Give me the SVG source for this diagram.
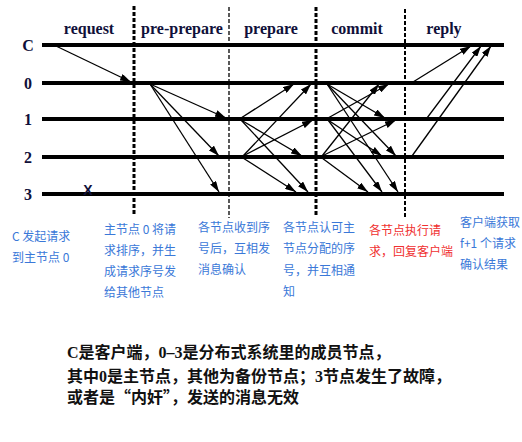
<svg xmlns="http://www.w3.org/2000/svg" width="522" height="442" viewBox="0 0 522 442">
<style>
.life{stroke:#000;stroke-width:4}
.lbl{font-family:"Liberation Serif","Noto Sans CJK SC",serif;font-weight:bold;font-size:16px;fill:#10103a;text-anchor:middle}
.phase{font-family:"Liberation Serif","Noto Sans CJK SC",serif;font-weight:bold;font-size:16px;fill:#10103a;text-anchor:middle}
.sep{stroke:#000;stroke-dasharray:4 2;fill:none}
.msg{stroke:#000;stroke-width:1.3;fill:none;marker-end:url(#ah)}
.note{font-family:"Noto Sans CJK SC","Noto Sans",sans-serif;font-size:12px;fill:#3a78d8}
.red{fill:#f03030}
.para{font-family:"Liberation Serif","Noto Sans CJK SC",serif;font-weight:bold;font-size:16px;fill:#111}
.cjk{font-family:"Noto Sans CJK SC",sans-serif}
</style>
<defs>
<marker id="ah" markerUnits="userSpaceOnUse" markerWidth="11" markerHeight="7" refX="11" refY="3.5" orient="auto">
<path d="M0,0 L11,3.5 L0,7 z" fill="#000"/>
</marker>
</defs>
<rect width="522" height="442" fill="#fff"/>
<g id="phases">
<text class="phase" x="89" y="34">request</text>
<text class="phase" x="182" y="34">pre-prepare</text>
<text class="phase" x="271" y="34">prepare</text>
<text class="phase" x="357" y="34">commit</text>
<text class="phase" x="444" y="34">reply</text>
</g>
<g id="separators">
<line class="sep" x1="134" y1="6" x2="134" y2="216" stroke-width="3"/>
<line class="sep" x1="229" y1="7" x2="229" y2="218" stroke-width="1.3"/>
<line class="sep" x1="316" y1="7" x2="316" y2="217" stroke-width="3"/>
<line class="sep" x1="405" y1="9" x2="405" y2="217" stroke-width="2"/>
</g>
<g id="node-C"><line class="life" x1="42" y1="45" x2="504" y2="45"/><text class="lbl" x="28" y="51">C</text></g>
<g id="node-0"><line class="life" x1="42" y1="83" x2="504" y2="83"/><text class="lbl" x="28" y="89">0</text></g>
<g id="node-1"><line class="life" x1="42" y1="119" x2="504" y2="119"/><text class="lbl" x="28" y="125">1</text></g>
<g id="node-2"><line class="life" x1="42" y1="157" x2="504" y2="157"/><text class="lbl" x="28" y="163">2</text></g>
<g id="node-3"><line class="life" x1="42" y1="194" x2="504" y2="194"/><text class="lbl" x="28" y="200">3</text>
<text x="88" y="195" font-family="Liberation Sans,sans-serif" font-weight="bold" font-size="14" fill="#10103a" text-anchor="middle">X</text></g>
<g id="connectors">
<line class="msg" x1="56" y1="46" x2="131" y2="82"/>
<line class="msg" x1="150" y1="84" x2="226" y2="118"/>
<line class="msg" x1="150" y1="84" x2="219" y2="156"/>
<line class="msg" x1="150" y1="84" x2="219" y2="192"/>
<line class="msg" x1="241" y1="118" x2="294" y2="84"/>
<line class="msg" x1="241" y1="120" x2="302" y2="156"/>
<line class="msg" x1="241" y1="120" x2="308" y2="192"/>
<line class="msg" x1="243" y1="156" x2="311" y2="84"/>
<line class="msg" x1="243" y1="156" x2="313" y2="120"/>
<line class="msg" x1="243" y1="158" x2="296" y2="192"/>
<line class="msg" x1="327" y1="84" x2="385" y2="118"/>
<line class="msg" x1="327" y1="84" x2="396" y2="156"/>
<line class="msg" x1="327" y1="84" x2="398" y2="192"/>
<line class="msg" x1="328" y1="118" x2="389" y2="84"/>
<line class="msg" x1="328" y1="120" x2="382" y2="156"/>
<line class="msg" x1="328" y1="120" x2="382" y2="192"/>
<line class="msg" x1="322" y1="156" x2="379" y2="84"/>
<line class="msg" x1="322" y1="156" x2="396" y2="120"/>
<line class="msg" x1="322" y1="158" x2="368" y2="192"/>
<line class="msg" x1="413" y1="82" x2="471" y2="46"/>
<line class="msg" x1="427" y1="118" x2="481" y2="46"/>
<line class="msg" x1="412" y1="156" x2="491" y2="46"/>
</g>
<g id="notes">
<text class="note" x="12" y="241">C 发起请求</text>
<text class="note" x="12" y="262">到主节点 0</text>
<text class="note" x="104" y="234">主节点 0 将请</text>
<text class="note" x="104" y="255">求排序，并生</text>
<text class="note" x="104" y="276">成请求序号发</text>
<text class="note" x="104" y="297">给其他节点</text>
<text class="note" x="198" y="232">各节点收到序</text>
<text class="note" x="198" y="253">号后，互相发</text>
<text class="note" x="198" y="274">消息确认</text>
<text class="note" x="283" y="232">各节点认可主</text>
<text class="note" x="283" y="253">节点分配的序</text>
<text class="note" x="283" y="275">号，并互相通</text>
<text class="note" x="283" y="296">知</text>
<text class="note red" x="369" y="235">各节点执行请</text>
<text class="note red" x="369" y="256">求，回复客户端</text>
<text class="note" x="460" y="227">客户端获取</text>
<text class="note" x="460" y="248">f+1 个请求</text>
<text class="note" x="460" y="269">确认结果</text>
</g>
<g id="caption">
<text class="para" x="67" y="358">C是客户端，0–3是分布式系统里的成员节点，</text>
<text class="para" x="67" y="382">其中0是主节点，其他为备份节点；3节点发生了故障，</text>
<text class="para" x="67" y="403">或者是<tspan class="cjk">“</tspan>内奸<tspan class="cjk">”</tspan>，发送的消息无效</text>
</g>
</svg>
